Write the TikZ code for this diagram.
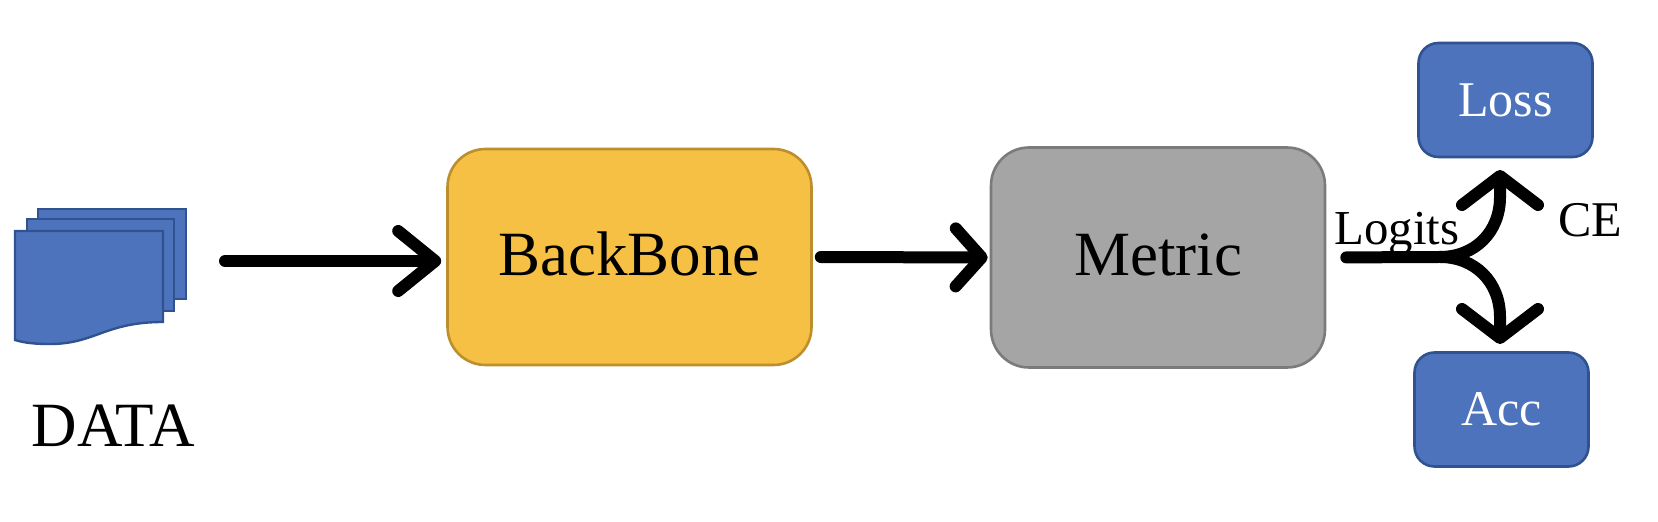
\documentclass[tikz,border=0pt]{standalone}
\usepackage{fontspec}
\setmainfont{Liberation Serif}
\usetikzlibrary{arrows.meta, calc}
\definecolor{pageblue}{HTML}{4E73BD}
\definecolor{pageedge}{HTML}{30528F}
\definecolor{backgold}{HTML}{F5C044}
\definecolor{backedge}{HTML}{BC8F2C}
\definecolor{metricgray}{HTML}{A5A5A5}
\definecolor{metricedge}{HTML}{7B7B7B}
\tikzset{
	bigtext/.style={font=\fontsize{31.5}{31.5}\selectfont},
	smalltext/.style={font=\fontsize{25}{25}\selectfont},
	logitstext/.style={font=\fontsize{24.4}{24.4}\selectfont},
	block/.style={draw, line width=1.3pt, inner sep=0pt, bigtext, text depth=3.2pt, rounded corners=19pt},
	lossbox/.style={draw=pageedge, fill=pageblue, text=white, line width=1.3pt, inner sep=0pt, smalltext, rounded corners=10pt, minimum width=87pt, minimum height=57pt},
	page/.style={draw=pageedge, fill=pageblue, line width=1.2pt},
	flow/.style 2 args={line width=6pt, line cap=round, -{Straight Barb[round, length=#1, width=#2, line width=6pt]}},
}
\begin{document}
\begin{tikzpicture}[x=.5pt, y=-.5pt]
	\useasboundingbox (0,0) rectangle (1658,522);
	% pages
	\draw [page] (38,209) rectangle (186,299);
	\draw [page] (27,219) rectangle (174,311);
	\draw [page] (15,231) -- (163,231) -- (163,322) .. controls (105,322) and (95,344) .. (50,344) .. controls (35,344) and (25,343) .. (15,340) -- cycle;
	\node (Data) at (113,426) [bigtext] {DATA};
	% blocks
	\node (BackBone) at (629.5,257) [block, draw=backedge, fill=backgold, minimum width=182pt, minimum height=108pt] {BackBone};
	\node (Metric) at (1158,257.5) [block, draw=metricedge, fill=metricgray, minimum width=167pt, minimum height=110pt] {Metric};
	\node (Loss) at (1505.5,100) [lossbox] {Loss};
	\node (Acc) at (1501.5,409.5) [lossbox] {Acc};
	\coordinate (DataOut) at (225,261);
	\coordinate (LossTip) at (1500,170);
	\coordinate (AccTip) at (1500,344);
	\coordinate (Split) at (1440,257);
	% connectors
	\draw [flow={18.5pt}{30pt}, shorten >=2.5pt] (DataOut) -- (DataOut -| BackBone.west);
	\draw [flow={13pt}{29pt}, shorten <=4pt, shorten >=1pt] (BackBone.east) -- (Metric.west);
	\draw [flow={14.5pt}{38pt}, shorten <=10pt] (Metric.east) -- (Split) .. controls (1475,257) and (1500,232) .. (1500,197) -- (LossTip);
	\draw [flow={14.5pt}{38pt}] (Split) .. controls (1475,257) and (1500,282) .. (1500,317) -- (AccTip);
	\node (Logits) at (1397,245) [logitstext, anchor=base] {Logits};
	\node (CE) at (1590,220) [smalltext] {CE};
\end{tikzpicture}
\end{document}
